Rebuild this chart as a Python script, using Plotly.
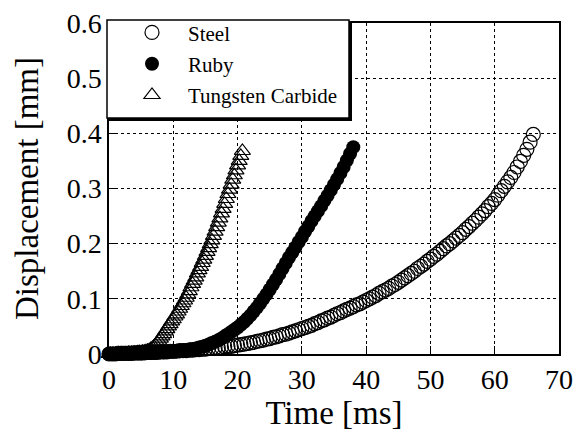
import plotly.graph_objects as go

# Sampling intervals (ms)
dt_steel = 0.5
dt_ruby = 0.5
dt_tc = 0.25

steel_disp = [
    0.000, 0.000, 0.000, 0.001, 0.001, 0.001, 0.001, 0.001, 0.002, 0.002, 0.002,
    0.002, 0.003, 0.003, 0.003, 0.003, 0.004, 0.004, 0.004, 0.005, 0.005,
    0.005, 0.006, 0.006, 0.006, 0.007, 0.007, 0.008, 0.008, 0.009, 0.009,
    0.010, 0.010, 0.011, 0.011, 0.012, 0.013, 0.014, 0.014, 0.015, 0.016,
    0.017, 0.018, 0.019, 0.020, 0.021, 0.023, 0.024, 0.025, 0.027, 0.028,
    0.030, 0.031, 0.033, 0.035, 0.036, 0.038, 0.040, 0.042, 0.044, 0.046,
    0.048, 0.050, 0.052, 0.055, 0.057, 0.060, 0.062, 0.065, 0.067, 0.070,
    0.073, 0.075, 0.078, 0.081, 0.083, 0.086, 0.089, 0.091, 0.094, 0.097,
    0.100, 0.103, 0.106, 0.110, 0.113, 0.116, 0.119, 0.123, 0.126, 0.130,
    0.134, 0.138, 0.142, 0.146, 0.150, 0.155, 0.159, 0.163, 0.168, 0.172,
    0.177, 0.181, 0.186, 0.191, 0.196, 0.200, 0.205, 0.210, 0.215, 0.220,
    0.226, 0.231, 0.237, 0.242, 0.248, 0.254, 0.260, 0.267, 0.273, 0.280,
    0.288, 0.296, 0.304, 0.312, 0.320, 0.329, 0.339, 0.349, 0.360, 0.371,
    0.384, 0.398,
]

ruby_disp = [
    0.000, 0.000, 0.000, 0.000, 0.001, 0.001, 0.001, 0.001, 0.001, 0.001,
    0.001, 0.002, 0.002, 0.002, 0.002, 0.003, 0.003, 0.003, 0.004, 0.004,
    0.004, 0.005, 0.005, 0.006, 0.007, 0.008, 0.009, 0.010, 0.012, 0.013,
    0.015, 0.017, 0.020, 0.022, 0.025, 0.028, 0.032, 0.036, 0.040, 0.044,
    0.048, 0.053, 0.058, 0.064, 0.070, 0.077, 0.084, 0.092, 0.100, 0.108,
    0.117, 0.126, 0.135, 0.145, 0.155, 0.165, 0.175, 0.184, 0.193, 0.203,
    0.212, 0.222, 0.231, 0.241, 0.250, 0.259, 0.268, 0.278, 0.287, 0.297,
    0.307, 0.317, 0.328, 0.339, 0.351, 0.363, 0.375,
]

tc_disp = [
    0.000, 0.000, 0.000, 0.000, 0.000, 0.001, 0.001, 0.001, 0.001, 0.001,
    0.001, 0.001, 0.002, 0.002, 0.002, 0.002, 0.002, 0.002, 0.003, 0.003,
    0.003, 0.004, 0.004, 0.005, 0.006, 0.007, 0.009, 0.011, 0.013, 0.016,
    0.020, 0.024, 0.028, 0.032, 0.036, 0.041, 0.045, 0.050, 0.054, 0.059,
    0.063, 0.068, 0.072, 0.077, 0.082, 0.087, 0.092, 0.097, 0.102, 0.108,
    0.114, 0.121, 0.127, 0.133, 0.139, 0.146, 0.152, 0.158, 0.165, 0.171,
    0.178, 0.185, 0.192, 0.199, 0.206, 0.214, 0.222, 0.230, 0.238, 0.246,
    0.255, 0.263, 0.272, 0.281, 0.290, 0.298, 0.307, 0.316, 0.324, 0.333,
    0.342, 0.350, 0.359, 0.368,
]

x_tickvals = [0, 10, 20, 30, 40, 50, 60, 70]
x_ticktext = ["0", "10", "20", "30", "40", "50", "60", "70"]
y_tickvals = [0, 0.1, 0.2, 0.3, 0.4, 0.5, 0.6]
y_ticktext = ["0", "0.1", "0.2", "0.3", "0.4", "0.5", "0.6"]

steel_t = [i * dt_steel for i in range(len(steel_disp))]
ruby_t = [i * dt_ruby for i in range(len(ruby_disp))]
tc_t = [i * dt_tc for i in range(len(tc_disp))]

FONT = "Liberation Serif"

fig = go.Figure()
fig.add_trace(go.Scatter(
    x=steel_t, y=steel_disp, mode="markers", name="Steel", legendgroup="a",
    cliponaxis=False,
    marker=dict(symbol="circle-open", size=14, color="black", line=dict(width=1.2, color="black")),
))
fig.add_trace(go.Scatter(
    x=ruby_t, y=ruby_disp, mode="markers", name="Ruby", legendgroup="b",
    cliponaxis=False,
    marker=dict(symbol="circle", size=14, color="black", line=dict(width=0)),
))
fig.add_trace(go.Scatter(
    x=tc_t, y=tc_disp, mode="markers", name="Tungsten Carbide", legendgroup="c",
    cliponaxis=False,
    marker=dict(symbol="triangle-up-open", size=14, color="black", line=dict(width=1.2, color="black")),
))

W, H = 582, 436
L, R, T, B = 109, 23, 16, 82
pw, ph = W - L - R, H - T - B


def px_x(p):
    return (p - L) / pw


def px_y(p):
    return (H - B - p) / ph


shapes = [
    # legend shadow
    dict(type="rect", xref="paper", yref="paper", layer="above",
         x0=px_x(109), x1=px_x(352), y0=px_y(116), y1=px_y(15),
         fillcolor="black", line=dict(width=0)),
    # legend box
    dict(type="rect", xref="paper", yref="paper", layer="above",
         x0=px_x(107), x1=px_x(349), y0=px_y(113), y1=px_y(13),
         fillcolor="white", line=dict(color="black", width=1.5)),
]

fig.update_layout(
    width=W, height=H,
    margin=dict(l=L, r=R, t=T, b=B),
    paper_bgcolor="white", plot_bgcolor="white",
    font=dict(family=FONT, color="black", size=28),
    showlegend=True,
    legend=dict(
        x=px_x(116), y=px_y(5), xanchor="left", yanchor="top",
        bgcolor="rgba(0,0,0,0)", borderwidth=0,
        font=dict(family=FONT, size=21, color="black"),
        itemwidth=62, tracegroupgap=1,
    ),
    shapes=shapes,
    xaxis=dict(
        range=[0, 70], tickvals=x_tickvals, ticktext=x_ticktext,
        showline=True, linecolor="black", linewidth=1.5, mirror=True,
        ticks="inside", ticklen=8, tickwidth=1, tickcolor="black",
        showgrid=True, gridcolor="black", gridwidth=1, griddash="dot",
        zeroline=False, automargin=False,
        title=dict(text="Time [ms]", font=dict(family=FONT, size=33), standoff=2),
        tickfont=dict(family=FONT, size=28),
    ),
    yaxis=dict(
        range=[0, 0.6], tickvals=y_tickvals, ticktext=y_ticktext,
        showline=True, linecolor="black", linewidth=1.5, mirror=True,
        ticks="inside", ticklen=8, tickwidth=1, tickcolor="black",
        showgrid=True, gridcolor="black", gridwidth=1, griddash="dot",
        zeroline=False, automargin=False,
        title=dict(text="Displacement [mm]", font=dict(family=FONT, size=33), standoff=18),
        tickfont=dict(family=FONT, size=28),
    ),
)

fig.write_html("out.html")
